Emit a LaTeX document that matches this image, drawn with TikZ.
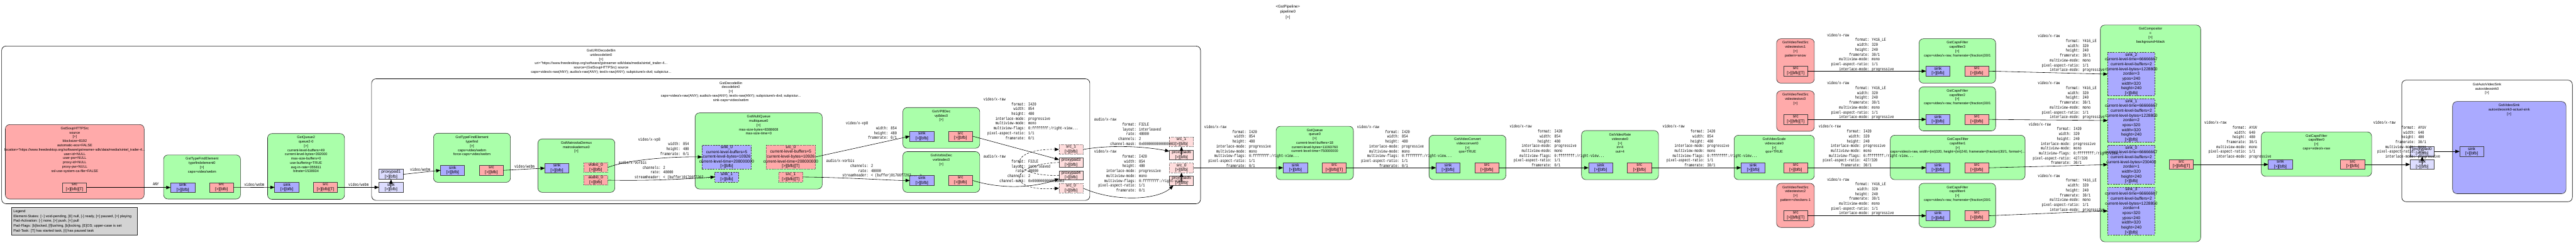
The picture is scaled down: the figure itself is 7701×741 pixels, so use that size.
\documentclass[tikz,border=0pt]{standalone}
\usepackage{fontspec}
\setmainfont{Liberation Sans}
\newfontfamily\monof[FakeStretch=0.78]{Liberation Mono}
\usetikzlibrary{arrows.meta,calc}
\definecolor{srcfill}{HTML}{FFAAAA}
\definecolor{filtfill}{HTML}{AAFFAA}
\definecolor{sinkfill}{HTML}{AAAAFF}
\definecolor{gsinkfill}{HTML}{DDDDFF}
\definecolor{gsrcfill}{HTML}{FFDDDD}
\definecolor{legfill}{HTML}{D3D3D3}
\newcommand\ttlfont{\fontsize{10.5}{12.7}\selectfont}
\newcommand\padfont{\fontsize{12.3}{14.4}\selectfont}
\newcommand\edgefont{\monof\fontsize{12.8}{14.5}\selectfont}
\newcommand\pipefont{\fontsize{11.5}{16}\selectfont}
\newcommand\legfont{\fontsize{10.8}{14.6}\selectfont}
\newlength\kw
\AtBeginDocument{\settowidth\kw{\edgefont 00000000000000000000}}
\newcommand\kv[2]{\makebox[\kw][r]{#1}: #2}
\newcommand\fl{\rule{0pt}{9pt}}
\newcommand\pl{{[>]}}
\newcommand\pb{{[>][bfb]}}
\newcommand\pbt{{[>][bfb][T]}}
\newcommand\vrawA[5]{video/x-raw\\\kv{format}{#1}\\\kv{width}{#2}\\\kv{height}{#3}\\\kv{interlace-mode}{progressive}\\\kv{multiview-mode}{mono}\\\kv{multiview-flags}{0:ffffffff:/right-view...}\\\kv{pixel-aspect-ratio}{#4}\\\kv{framerate}{#5}}
\newcommand\vrawB{video/x-raw\\\kv{format}{Y416\_LE}\\\kv{width}{320}\\\kv{height}{240}\\\kv{framerate}{30/1}\\\kv{multiview-mode}{mono}\\\kv{pixel-aspect-ratio}{1/1}\\\kv{interlace-mode}{progressive}}
\newcommand\vrawC{video/x-raw\\\kv{format}{AYUV}\\\kv{width}{640}\\\kv{height}{480}\\\kv{framerate}{30/1}\\\kv{multiview-mode}{mono}\\\kv{pixel-aspect-ratio}{1/1}\\\kv{interlace-mode}{progressive}}
\newcommand\araw{audio/x-raw\\\kv{format}{F32LE}\\\kv{layout}{interleaved}\\\kv{rate}{48000}\\\kv{channels}{2}\\\kv{channel-mask}{0x0000000000000003}}
\newcommand\vpeight{video/x-vp8\\\kv{width}{854}\\\kv{height}{480}\\\kv{framerate}{0/1}}
\newcommand\vorb{audio/x-vorbis\\\kv{channels}{2}\\\kv{rate}{48000}\\\kv{streamheader}{< (buffer)01766f7262... >}}
\tikzset{
 elem/.style={draw=black!85,line width=1.1pt,rounded corners=13pt,inner sep=0pt,outer sep=0pt},
 clus/.style={draw=black,line width=1.2pt,rounded corners=13pt,inner sep=0pt,outer sep=0pt},
 padn/.style={draw=black!75,line width=1.1pt,inner sep=0pt,outer sep=0pt},
 padtxt/.style={inner sep=0pt,align=center,font=\padfont},
 ttl/.style={inner sep=0pt,align=center,font=\ttlfont},
 elab/.style={inner sep=0pt,align=left,font=\edgefont},
 clab/.style={inner sep=0pt,font=\edgefont},
 conn/.style={line width=1.1pt,-{Triangle[length=13pt,width=10pt]}},
 dconn/.style={conn,dash pattern=on 6pt off 4pt},
 dashedpad/.style={dash pattern=on 5pt off 3pt},
 dottedpad/.style={dash pattern=on 1.5pt off 3pt},
}
\newcommand\gbox[6]{\node[#6,anchor=north west,minimum width={(#4)-(#2)},minimum height={(#5)-(#3)}] (#1) at (#2,#3) {};}
\newcommand\gpad[7]{\gbox{#1}{#2}{#3}{#4}{#5}{padn,#6}\node[padtxt] (#1t) at (#1.center) {#7};}
\newcommand\gttl[4]{\node[ttl,anchor=north] (#1) at (#2,#3) {\fl#4};}
\newcommand\glab[4]{\node[elab,anchor=north west] (#1) at (#2,#3) {\fl#4};}
\begin{document}
\begin{tikzpicture}[x=1pt,y=-1pt]
\fill[white] (0,0) rectangle (7701,741);
\useasboundingbox (0,0) rectangle (7701,741);
% pipeline title
\node[ttl,font=\pipefont,anchor=north] (ptitle) at (3850,14) {\fl<GstPipeline>\\pipeline0\\\pl};
% clusters
\gbox{uri}{5}{138}{3589}{610}{clus}
\gttl{urit}{1797}{146}{GstURIDecodeBin\\uridecodebin0\\\pl\\uri="https://www.freedesktop.org/software/gstreamer-sdk/data/media/sintel\_trailer-4...\\source=(GstSoupHTTPSrc) source\\caps=video/x-raw(ANY); audio/x-raw(ANY); text/x-raw(ANY); subpicture/x-dvd; subpictur...}
\gbox{dec}{1111}{236}{3258}{600}{clus}
\gttl{dect}{2185}{243}{GstDecodeBin\\decodebin0\\\pl\\caps=video/x-raw(ANY); audio/x-raw(ANY); text/x-raw(ANY); subpicture/x-dvd; subpictur...\\sink-caps=video/webm}
% legend
\gbox{leg}{35}{621}{411}{703}{draw=black!85,line width=1.1pt,fill=legfill,inner sep=0pt,outer sep=0pt}
\node[inner sep=0pt,align=left,anchor=north west,font=\legfont] (legt) at (40,627) {\fl Legend\\Element-States: [\textasciitilde] void-pending, [0] null, [-] ready, [=] paused, [>] playing\\Pad-Activation: [-] none, [>] push, [<] pull\\Pad-Flags: [b]locked, [f]lushing, [b]locking, [E]OS; upper-case is set\\Pad-Task: [T] has started task, [t] has paused task};
% source
\gbox{source}{16}{373}{431}{596}{elem,fill=srcfill}
\gttl{sourcet}{223.5}{379}{GstSoupHTTPSrc\\source\\\pl\\blocksize=8192\\automatic-eos=FALSE\\location="https://www.freedesktop.org/software/gstreamer-sdk/data/media/sintel\_trailer-4...\\user-id=NULL\\user-pw=NULL\\proxy-id=NULL\\proxy-pw=NULL\\ssl-use-system-ca-file=FALSE}
\gpad{sourcesrc}{187}{547}{259}{576}{fill=srcfill}{src\\\pbt}
% typefindelement0
\gbox{tfe}{489}{464}{719}{596}{elem,fill=filtfill}
\gttl{tfet}{604}{470}{GstTypeFindElement\\typefindelement0\\\pl\\caps=video/webm}
\gpad{tfesink}{510}{547}{583}{576}{fill=sinkfill}{sink\\\pb}
\gpad{tfesrc}{626}{547}{698}{576}{fill=srcfill}{src\\\pb}
% queue2-0
\gbox{qtwo}{800}{400}{1030}{597}{elem,fill=filtfill}
\gttl{qtwot}{915}{406}{GstQueue2\\queue2-0\\\pl\\current-level-buffers=49\\current-level-bytes=392000\\max-size-buffers=0\\use-buffering=TRUE\\avg-in-rate=355811\\bitrate=1538934}
\gpad{qtwosink}{821}{546}{894}{576}{fill=sinkfill}{sink\\\pb}
\gpad{qtwosrc}{937}{546}{1009}{576}{fill=srcfill}{src\\\pbt}
% decodebin ghost sink
\gpad{dsink}{1133}{546}{1205}{576}{fill=gsinkfill}{sink\\\pb}
\gpad{ppone}{1133}{507}{1205}{537}{fill=gsinkfill}{proxypad1\\\pb}
% typefind
\gbox{tf}{1296}{399}{1526}{546}{elem,fill=filtfill}
\gttl{tft}{1411}{406}{GstTypeFindElement\\typefind\\\pl\\caps=video/webm\\force-caps=video/webm}
\gpad{tfsink}{1317}{495}{1389}{525}{fill=sinkfill}{sink\\\pb}
\gpad{tfsrc}{1433}{495}{1505}{525}{fill=srcfill}{src\\\pb}
% matroskademux0
\gbox{md}{1608}{416}{1838}{576}{elem,fill=filtfill}
\gttl{mdt}{1723}{422}{GstMatroskaDemux\\matroskademux0\\\pl}
\gpad{mdsink}{1629}{489}{1701}{518}{fill=sinkfill}{sink\\\pb}
\gpad{mdv}{1745}{487}{1817}{516}{fill=srcfill,dottedpad}{video\_0\\\pb}
\gpad{mda}{1745}{525}{1817}{554}{fill=srcfill,dottedpad}{audio\_0\\\pb}
% multiqueue0
\gbox{mq}{2078}{338}{2458}{566}{elem,fill=filtfill}
\gttl{mqt}{2268}{344}{GstMultiQueue\\multiqueue0\\\pl\\max-size-bytes=8388608\\max-size-time=0}
\gpad{mqsinkz}{2099}{434}{2246}{506}{fill=sinkfill,dashedpad}{sink\_0\\current-level-buffers=5\\current-level-bytes=10926\\current-level-time=208000000\\\pb}
\gpad{mqsrcz}{2290}{434}{2438}{506}{fill=srcfill,dottedpad}{src\_0\\current-level-buffers=5\\current-level-bytes=10926\\current-level-time=208000000\\\pbt}
\gpad{mqsinko}{2137}{515}{2208}{545}{fill=sinkfill,dashedpad}{sink\_1\\\pb}
\gpad{mqsrco}{2328}{515}{2400}{545}{fill=srcfill,dottedpad}{src\_1\\\pbt}
% vp8dec0
\gbox{vp}{2699}{322}{2929}{444}{elem,fill=filtfill}
\gttl{vpt}{2814}{328}{GstVP8Dec\\vp8dec0\\\pl}
\gpad{vpsink}{2720}{393}{2792}{423}{fill=sinkfill}{sink\\\pb}
\gpad{vpsrc}{2835}{393}{2908}{423}{fill=srcfill}{src\\\pb}
% vorbisdec0
\gbox{vb}{2699}{454}{2929}{576}{elem,fill=filtfill}
\gttl{vbt}{2814}{460}{GstVorbisDec\\vorbisdec0\\\pl}
\gpad{vbsink}{2720}{526}{2792}{555}{fill=sinkfill}{sink\\\pb}
\gpad{vbsrc}{2835}{526}{2908}{555}{fill=srcfill}{src\\\pb}
% decodebin ghost src pads
\gpad{dsrco}{3166}{433}{3238}{462}{fill=gsrcfill,dottedpad}{src\_1\\\pb}
\gpad{ppthree}{3166}{472}{3238}{501}{fill=gsrcfill}{proxypad3\\\pb}
\gpad{ppfour}{3166}{511}{3238}{539}{fill=gsrcfill}{proxypad4\\\pb}
\gpad{dsrcz}{3166}{549}{3238}{578}{fill=gsrcfill,dottedpad}{src\_0\\\pb}
% uridecodebin ghost src pads
\gpad{usrco}{3496}{411}{3568}{439}{fill=gsrcfill,dottedpad}{src\_1\\\pb}
\gpad{ppsix}{3496}{449}{3568}{478}{fill=gsrcfill}{proxypad6\\\pb}
\gpad{usrcz}{3496}{488}{3568}{517}{fill=gsrcfill,dottedpad}{src\_0\\\pb}
\gpad{ppfive}{3496}{527}{3568}{555}{fill=gsrcfill}{proxypad5\\\pb}
% queue0
\gbox{qz}{3815}{378}{4046}{538}{elem,fill=filtfill}
\gttl{qzt}{3930.5}{384}{GstQueue\\queue0\\\pl\\current-level-buffers=18\\current-level-bytes=11093760\\current-level-time=750000000}
\gpad{qzsink}{3836}{488}{3909}{517}{fill=sinkfill}{sink\\\pb}
\gpad{qzsrc}{3953}{488}{4024}{517}{fill=srcfill}{src\\\pbt}
% videoconvert0
\gbox{vc}{4272}{405}{4502}{538}{elem,fill=filtfill}
\gttl{vct}{4387}{411}{GstVideoConvert\\videoconvert0\\\pl\\qos=TRUE}
\gpad{vcsink}{4293}{488}{4365}{517}{fill=sinkfill}{sink\\\pb}
\gpad{vcsrc}{4409}{488}{4481}{517}{fill=srcfill}{src\\\pb}
% videorate0
\gbox{vr}{4728}{391}{4958}{538}{elem,fill=filtfill}
\gttl{vrt}{4843}{398}{GstVideoRate\\videorate0\\\pl\\in=4\\out=4}
\gpad{vrsink}{4749}{488}{4821}{517}{fill=sinkfill}{sink\\\pb}
\gpad{vrsrc}{4865}{488}{4937}{517}{fill=srcfill}{src\\\pb}
% videoscale0
\gbox{vs}{5184}{405}{5424}{538}{elem,fill=filtfill}
\gttl{vst}{5304}{411}{GstVideoScale\\videoscale0\\\pl\\qos=TRUE}
\gpad{vssink}{5205}{488}{5277}{517}{fill=sinkfill}{sink\\\pb}
\gpad{vssrc}{5332}{488}{5404}{517}{fill=srcfill}{src\\\pb}
% videotestsrcs
\gbox{vtone}{5311}{116}{5424}{249}{elem,fill=srcfill}
\gttl{vtonet}{5367.5}{122}{GstVideoTestSrc\\videotestsrc1\\\pl\\pattern=snow}
\gpad{vtonesrc}{5332}{198}{5404}{228}{fill=srcfill}{src\\\pbt}
\gbox{vtzero}{5311}{272}{5424}{393}{elem,fill=srcfill}
\gttl{vtzerot}{5367.5}{278}{GstVideoTestSrc\\videotestsrc0\\\pl}
\gpad{vtzerosrc}{5332}{343}{5404}{372}{fill=srcfill}{src\\\pbt}
\gbox{vttwo}{5311}{549}{5424}{681}{elem,fill=srcfill}
\gttl{vttwot}{5367.5}{555}{GstVideoTestSrc\\videotestsrc2\\\pl\\pattern=checkers-1}
\gpad{vttwosrc}{5332}{631}{5404}{661}{fill=srcfill}{src\\\pbt}
% capsfilters
\gbox{cfthree}{5737}{116}{5966}{249}{elem,fill=filtfill}
\gttl{cfthreet}{5851.5}{122}{GstCapsFilter\\capsfilter3\\\pl\\caps=video/x-raw, framerate=(fraction)30/1}
\gpad{cfthreesink}{5758}{198}{5829}{228}{fill=sinkfill}{sink\\\pb}
\gpad{cfthreesrc}{5874}{198}{5945}{228}{fill=srcfill}{src\\\pb}
\gbox{cftwo}{5737}{260}{5966}{392}{elem,fill=filtfill}
\gttl{cftwot}{5851.5}{266}{GstCapsFilter\\capsfilter2\\\pl\\caps=video/x-raw, framerate=(fraction)30/1}
\gpad{cftwosink}{5758}{343}{5829}{372}{fill=sinkfill}{sink\\\pb}
\gpad{cftwosrc}{5874}{343}{5945}{372}{fill=srcfill}{src\\\pb}
\gbox{cfone}{5651}{405}{6054}{538}{elem,fill=filtfill}
\gttl{cfonet}{5852.5}{411}{GstCapsFilter\\capsfilter1\\\pl\\caps=video/x-raw, width=(int)320, height=(int)240, framerate=(fraction)30/1, format=(...}
\gpad{cfonesink}{5758}{488}{5829}{517}{fill=sinkfill}{sink\\\pb}
\gpad{cfonesrc}{5874}{488}{5945}{517}{fill=srcfill}{src\\\pb}
\gbox{cffour}{5737}{549}{5966}{681}{elem,fill=filtfill}
\gttl{cffourt}{5851.5}{555}{GstCapsFilter\\capsfilter4\\\pl\\caps=video/x-raw, framerate=(fraction)30/1}
\gpad{cffoursink}{5758}{631}{5829}{661}{fill=sinkfill}{sink\\\pb}
\gpad{cffoursrc}{5874}{631}{5945}{661}{fill=srcfill}{src\\\pb}
% compositor
\gbox{comp}{6279}{75}{6579}{724}{elem,fill=filtfill}
\gttl{compt}{6429}{81}{GstCompositor\\c\\\pl\\background=black}
\gpad{csinktwo}{6301}{157}{6442}{287}{fill=sinkfill,dashedpad}{sink\_2\\current-level-time=66666667\\current-level-buffers=2\\current-level-bytes=1228800\\zorder=3\\ypos=240\\width=320\\height=240\\\pb}
\gpad{csinkone}{6301}{296}{6442}{426}{fill=sinkfill,dashedpad}{sink\_1\\current-level-time=66666667\\current-level-buffers=2\\current-level-bytes=1228800\\zorder=2\\xpos=320\\width=320\\height=240\\\pb}
\gpad{csinkzero}{6301}{435}{6442}{551}{fill=sinkfill,dashedpad}{sink\_0\\current-level-time=66666667\\current-level-buffers=2\\current-level-bytes=230400\\zorder=1\\width=320\\height=240\\\pb}
\gpad{csinkthree}{6301}{560}{6442}{703}{fill=sinkfill,dashedpad}{sink\_3\\current-level-time=66666667\\current-level-buffers=2\\current-level-bytes=1228800\\zorder=4\\xpos=320\\ypos=240\\width=320\\height=240\\\pb}
\gpad{csrc}{6485}{478}{6557}{507}{fill=srcfill}{src\\\pbt}
% right part (approximate)
\gbox{cfzero}{6760}{395}{7090}{528}{elem,fill=filtfill}
\gttl{cfzerot}{6925}{401}{GstCapsFilter\\capsfilter0\\\pl\\caps=video/x-raw}
\gpad{cfzerosink}{6781}{478}{6853}{507}{fill=sinkfill}{sink\\\pb}
\gpad{cfzerosrc}{6997}{478}{7069}{507}{fill=srcfill}{src\\\pb}
\gbox{asb}{7180}{240}{7690}{604}{clus}
\gttl{asbt}{7435}{247}{GstAutoVideoSink\\autovideosink0\\\pl}
\gpad{asink}{7205}{478}{7277}{507}{fill=gsinkfill}{sink\\\pb}
\gpad{ppzero}{7205}{439}{7277}{468}{fill=gsinkfill}{proxypad0\\\pb}
\gbox{vsk}{7332}{304}{7671}{580}{elem,fill=sinkfill}
\gttl{vskt}{7501}{310}{GstVideoSink\\autovideosink0-actual-sink\\\pl}
\gpad{vsksink}{7353}{439}{7425}{468}{fill=sinkfill}{sink\\\pb}
% edges
\draw[conn] (sourcesrc.east) -- (tfesink.west);
\draw[conn] (tfesrc.east) -- (qtwosink.west);
\draw[conn] (qtwosrc.east) -- (dsink.west);
\draw[conn] (dsink.center) -- (ppone.south);
\draw[conn] (ppone.east) -- (tfsink.west);
\draw[conn] (tfsrc.east) -- (mdsink.west);
\draw[conn] (mdv.east) .. controls (1870,480) and (1990,469) .. (mqsinkz.west);
\draw[conn] (mda.east) .. controls (1950,542) and (2050,536) .. (mqsinko.west);
\draw[conn] (mqsrcz.east) -- (vpsink.west);
\draw[conn] (mqsrco.east) .. controls (2550,532) and (2650,540) .. (vbsink.west);
\draw[conn] (vpsrc.east) -- ($(ppthree.north west)+(0,6)$);
\draw[conn] (vbsrc.east) .. controls (3010,572) and (3110,556) .. ($(ppfour.south west)+(0,-4)$);
\draw[dconn] (ppthree.west) .. controls (3010,492) and (3010,575) .. (dsrcz.west);
\draw[dconn] (ppfour.west) .. controls (3010,530) and (3010,445) .. (dsrco.west);
\draw[conn] (dsrco.east) .. controls (3330,432) and (3430,440) .. ($(ppsix.north west)+(0,4)$);
\draw[conn] (dsrcz.east) .. controls (3330,605) and (3460,600) .. ($(ppfive.south west)+(12,0)$);
\draw[conn] (ppsix.center) -- (usrco.south);
\draw[conn] (ppfive.center) -- (usrcz.south);
\draw[conn] (usrcz.east) -- (qzsink.west);
\draw[conn] (qzsrc.east) -- (vcsink.west);
\draw[conn] (vcsrc.east) -- (vrsink.west);
\draw[conn] (vrsrc.east) -- (vssink.west);
\draw[conn] (vssrc.east) -- (cfonesink.west);
\draw[conn] (vtonesrc.east) -- (cfthreesink.west);
\draw[conn] (vtzerosrc.east) -- (cftwosink.west);
\draw[conn] (vttwosrc.east) -- (cffoursink.west);
\draw[conn] (cfthreesrc.east) -- (csinktwo.west);
\draw[conn] (cftwosrc.east) -- (csinkone.west);
\draw[conn] (cfonesrc.east) -- (csinkzero.west);
\draw[conn] (cffoursrc.east) -- (csinkthree.west);
\draw[conn] (csrc.east) -- (cfzerosink.west);
\draw[conn] (cfzerosrc.east) -- (asink.west);
\draw[conn] (asink.center) -- (ppzero.south);
\draw[conn] (ppzero.east) -- (vsksink.west);
% edge labels
\node[clab] (lany) at (466,551) {ANY};
\node[clab] (lwa) at (760,553) {video/webm};
\node[clab] (lwb) at (1072,553) {video/webm};
\node[clab] (lwc) at (1256,507) {video/webm};
\node[clab] (lwd) at (1568,498) {video/webm};
\glab{lsix}{1908}{412}{\vpeight}
\glab{lseven}{1849}{482}{\vorb}
\glab{leight}{2529}{364}{\vpeight}
\glab{lnine}{2470}{477}{\vorb}
\glab{lten}{2940}{292}{\vrawA{I420}{854}{480}{1/1}{0/1}}
\glab{leleven}{2940}{464}{\araw}
\glab{ltwelve}{3271}{353}{\araw}
\glab{lthirteen}{3271}{449}{\vrawA{I420}{854}{480}{1/1}{0/1}}
\glab{lfourteen}{3600}{375}{\vrawA{I420}{854}{480}{1/1}{0/1}}
\glab{lfifteen}{4057}{375}{\vrawA{I420}{854}{480}{1/1}{0/1}}
\glab{lsixteen}{4513}{374}{\vrawA{I420}{854}{480}{1/1}{0/1}}
\glab{lseventeen}{4970}{374}{\vrawA{I420}{854}{480}{1/1}{30/1}}
\glab{leighteen}{5437}{374}{\vrawA{I420}{320}{240}{427/320}{30/1}}
\glab{lnineteen}{5462}{100}{\vrawB}
\glab{ltwenty}{5462}{244}{\vrawB}
\glab{ltwentyone}{5462}{532}{\vrawB}
\glab{ltwentytwo}{6092}{103}{\vrawB}
\glab{ltwentythree}{6092}{244}{\vrawB}
\glab{ltwentyfour}{6065}{367}{\vrawA{I420}{320}{240}{427/320}{30/1}}
\glab{ltwentyfive}{6092}{521}{\vrawB}
\glab{ltwentysix}{6590}{362}{\vrawC}
\glab{ltwentyseven}{7095}{362}{\vrawC}
\end{tikzpicture}
\end{document}
